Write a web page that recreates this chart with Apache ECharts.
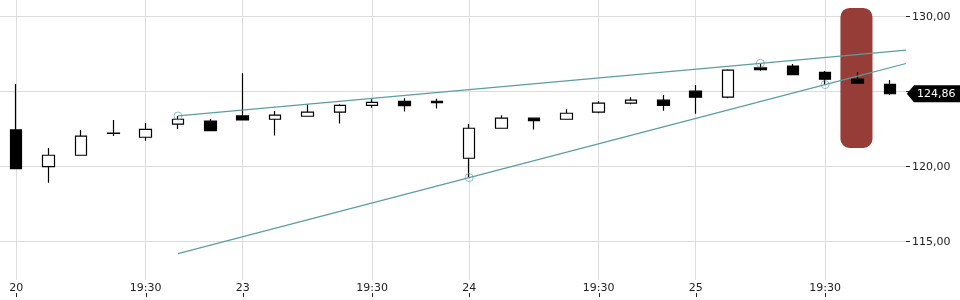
<!DOCTYPE html>
<html><head><meta charset="utf-8">
<script src="https://cdn.jsdelivr.net/npm/echarts@6/dist/echarts.min.js"></script>
<style>html,body{margin:0;padding:0;background:#fff}#c{width:960px;height:300px}</style>
</head><body><div id="c"></div>
<script>
// ---- data ----
const categories = [
  '20 15:30','20 16:30','20 17:30','20 18:30','20 19:30','20 20:30','20 21:30',
  '23 15:30','23 16:30','23 17:30','23 18:30','23 19:30','23 20:30','23 21:30',
  '24 15:30','24 16:30','24 17:30','24 18:30','24 19:30','24 20:30','24 21:30',
  '25 15:30','25 16:30','25 17:30','25 18:30','25 19:30','25 20:30','25 21:30'
];
const opens  = [122.45,120.00,120.76,122.21,121.96,122.83,123.03,123.38,123.16,123.36,123.63,124.09,124.36,124.36,
                120.56,122.56,123.23,123.16,123.63,124.23,124.43,125.03,124.63,126.58,126.71,126.29,125.83,125.49];
const closes = [119.87,120.76,122.03,122.23,122.49,123.16,122.40,123.11,123.43,123.63,124.09,124.29,124.07,124.27,
                122.56,123.23,123.07,123.56,124.23,124.43,124.09,124.63,126.43,126.47,126.13,125.83,125.56,124.86];
const lows   = [119.87,118.93,120.76,122.05,121.73,122.51,122.40,123.07,122.07,123.36,122.87,123.93,123.67,123.87,
                119.27,122.56,122.47,123.16,123.56,124.16,123.73,123.53,124.56,126.40,126.13,125.47,125.56,124.80];
const highs  = [125.51,121.25,122.45,123.11,122.91,123.38,123.18,126.23,123.71,124.16,124.16,124.49,124.56,124.53,
                122.85,123.43,123.23,123.83,124.36,124.63,124.78,125.45,126.49,126.85,126.85,126.38,126.31,125.78];

// trend lines: [candle position, price]
const upperLine = [[5,123.38],[23,126.89],[27.5,127.77]];
const upperAnchors = [[5,123.38],[23,126.89]];
const lowerLine = [[5,114.20],[14,119.27],[25,125.47],[27.5,126.88]];
const lowerAnchors = [[14,119.27],[25,125.47]];

// highlighted candle zone
const highlightIndex = [26];
const highlightTop = [130.58];
const highlightBottom = [121.25];

const lastPrice = 124.86;
const yTicks = [115,120,125,130];

// ---- chart ----
const candleData = opens.map((o,i)=>[o, closes[i], lows[i], highs[i]]);
const highlightData = highlightIndex.map((x,i)=>[x, highlightTop[i], highlightBottom[i]]);
const showIdx = (idx, val) => /(15:30|19:30)$/.test(val);
const fmtX = (val) => val.endsWith('15:30') ? val.split(' ')[0] : (val.endsWith('19:30') ? '19:30' : '');
const xTickData = categories.map((c,i)=>[i, 0]).filter(d=>showIdx(d[0], categories[d[0]]));
const FONT = 'DejaVu Sans';
const TEAL = '#5b9ea2';
const GRID = '#dcdcdc';

const chart = echarts.init(document.getElementById('c'), null, {renderer:'canvas'});
chart.setOption({
  animation:false,
  backgroundColor:'#fff',
  grid:[
    {left:0, right:54, top:-58.33, bottom:-16.67, outerBoundsMode:'none', containLabel:false},
    {left:0, right:54, top:0, bottom:20, outerBoundsMode:'none', containLabel:false}
  ],
  xAxis:[
    {type:'category', gridIndex:0, position:'bottom', data:categories, boundaryGap:true,
     axisLine:{show:false, onZero:false}, axisTick:{show:false}, axisLabel:{show:false}, splitLine:{show:false}},
    {type:'category', gridIndex:1, position:'bottom', data:categories, boundaryGap:true,
     axisLine:{show:false, onZero:false}, axisTick:{show:false},
     axisLabel:{interval:showIdx, formatter:fmtX, margin:3, fontSize:11, fontFamily:FONT, color:'#222'},
     splitLine:{show:true, interval:showIdx, alignWithLabel:true, lineStyle:{color:GRID, width:1}}},
    {type:'value', gridIndex:0, position:'bottom', min:-0.5, max:27.5, show:false, axisLine:{onZero:false}}
  ],
  yAxis:[
    {type:'value', gridIndex:0, position:'right', min:110, max:135, interval:5, scale:true,
     axisLine:{show:false, onZero:false},
     axisTick:{show:true, length:4, lineStyle:{color:'#222'}},
     axisLabel:{margin:6, fontSize:11, fontFamily:FONT, color:'#222',
       formatter:(v)=> yTicks.includes(v) ? v.toFixed(2).replace('.',',') : ''},
     splitLine:{show:true, lineStyle:{color:GRID, width:1}}},
    {type:'value', gridIndex:1, min:0, max:1, show:false, axisLine:{onZero:false}}
  ],
  series:[
    {type:'custom', xAxisIndex:0, yAxisIndex:0, z:1, silent:true,
     data:highlightData, encode:{x:0, y:[1,2]},
     renderItem:(params, api)=>{
       const x = api.value(0);
       const top = api.coord([x, api.value(1)]);
       const bot = api.coord([x, api.value(2)]);
       const w = api.size([1,0])[0]*0.99;
       return {type:'rect', shape:{x:top[0]-w/2-1, y:top[1], width:w, height:bot[1]-top[1], r:9},
               style:{fill:'#973d37'}};
     }},
    {type:'candlestick', xAxisIndex:0, yAxisIndex:0, z:2, data:candleData, barWidth:12,
     itemStyle:{color:'#ffffff', color0:'#000000', borderColor:'#000000', borderColor0:'#000000', borderWidth:1.2},
     markPoint:{
       silent:true, animation:false,
       data:[{coord:[27, lastPrice], value:lastPrice,
         symbol:'path://M0,8.5L7,0L54,0L54,17L7,17Z', symbolSize:[55,17], symbolOffset:[44.5,0],
         symbolKeepAspect:false,
         itemStyle:{color:'#000'},
         label:{show:true, position:'inside', offset:[2,0], color:'#fff', fontSize:11, fontFamily:FONT,
           formatter:()=>lastPrice.toFixed(2).replace('.',',')}}]
     }},
    {type:'line', xAxisIndex:2, yAxisIndex:0, z:4, data:upperLine, symbol:'none', silent:true,
     lineStyle:{color:TEAL, width:1.2}},
    {type:'line', xAxisIndex:2, yAxisIndex:0, z:4, data:lowerLine, symbol:'none', silent:true,
     lineStyle:{color:TEAL, width:1.2}},
    {type:'scatter', xAxisIndex:2, yAxisIndex:0, z:5, data:upperAnchors.concat(lowerAnchors), symbol:'circle', symbolSize:8, silent:true,
     itemStyle:{color:'rgba(0,0,0,0)', borderColor:'rgba(91,158,162,0.8)', borderWidth:1}},
    {type:'custom', xAxisIndex:1, yAxisIndex:1, z:5, silent:true, clip:false,
     data:xTickData, encode:{x:0, y:1},
     renderItem:(params, api)=>{
       const p = api.coord([api.value(0), api.value(1)]);
       const x = Math.round(p[0]) + 0.5;
       return {type:'line', shape:{x1:x, y1:p[1]+13, x2:x, y2:p[1]+17},
               style:{stroke:'#222', lineWidth:1}};
     }}
  ]
});
</script></body></html>
